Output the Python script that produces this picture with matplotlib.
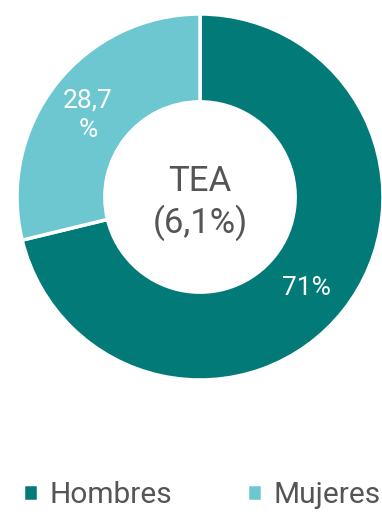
import matplotlib.pyplot as plt

plt.rcParams['font.family'] = ['Roboto', 'DejaVu Sans']

labels = ['Hombres', 'Mujeres']
values = [71, 28.7]
value_text = ['71%', '28,7\n%']
colors = ['#027b78', '#6dc7d1']
center_text = 'TEA\n(6,1%)'

W, H = 382, 514
fig = plt.figure(figsize=(W / 100, H / 100), dpi=100)
ax = fig.add_axes([0, 0, 1, 1])

cx, cy, r = 200, H - 197, 183
wedges, _ = ax.pie(values, colors=colors, startangle=90, counterclock=False,
                   radius=r, center=(cx, cy), frame=True,
                   wedgeprops=dict(width=r * 0.48, edgecolor='white', linewidth=2.5))
ax.set_xlim(0, W)
ax.set_ylim(0, H)
ax.set_aspect('equal')
ax.axis('off')

# value labels inside the ring
ax.text(306, H - 288, value_text[0], color='white', fontsize=19,
        ha='center', va='center')
ax.text(88, H - 115, value_text[1], color='white', fontsize=19,
        ha='center', va='center', linespacing=1.3)

ax.text(cx, H - 203, center_text, color='#555555', fontsize=25,
        ha='center', va='center', linespacing=1.2)

leg = ax.legend(wedges, labels, loc='center', bbox_to_anchor=(202 / W, 1 - 495 / H),
                ncol=2, frameon=False, fontsize=21.5, handlelength=0.5, handleheight=0.5,
                handletextpad=0.4, columnspacing=2.5)
for t in leg.get_texts():
    t.set_color('#555555')

fig.savefig('out.png', dpi=100)
